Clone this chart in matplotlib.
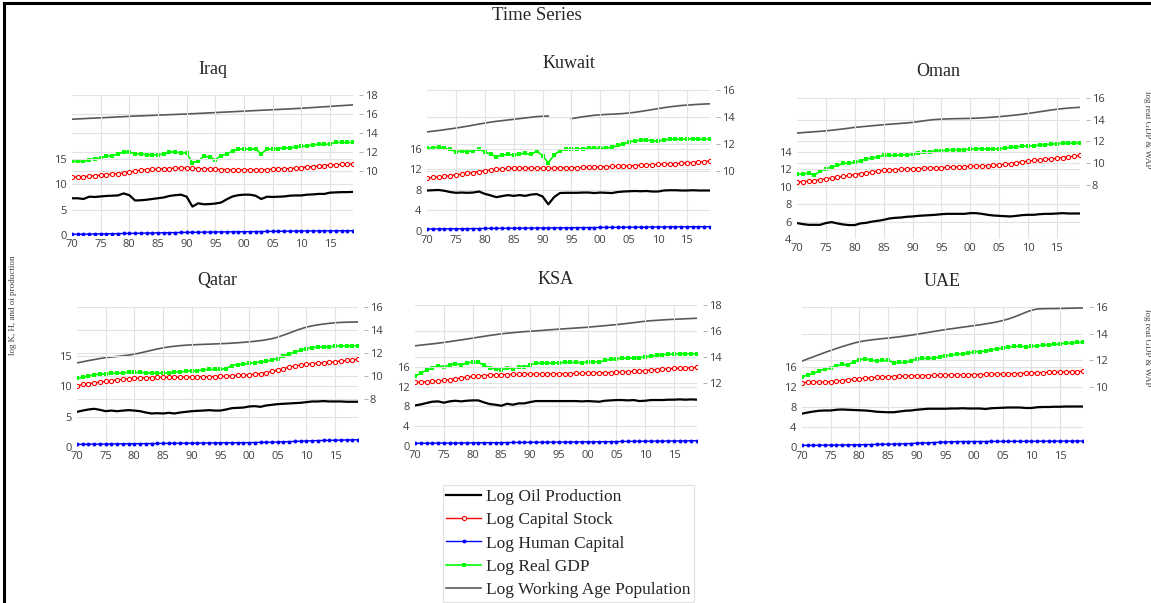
import numpy as np
import matplotlib
matplotlib.use("Agg")
import matplotlib.pyplot as plt
from matplotlib.lines import Line2D

W, H = 1151, 603

years = list(range(1970, 2020))
tick_years = [1970, 1975, 1980, 1985, 1990, 1995, 2000, 2005, 2010, 2015]
tick_labels = ["70", "75", "80", "85", "90", "95", "00", "05", "10", "15"]

series_names = ["Log Oil Production", "Log Capital Stock", "Log Human Capital",
                "Log Real GDP", "Log Working Age Population"]

# ---- Iraq ----
iraq_oil = [7.24, 7.24, 7.1, 7.55, 7.5, 7.6, 7.7, 7.75, 7.8, 8.2,
            7.85, 6.8, 6.85, 6.95, 7.1, 7.25, 7.4, 7.7, 7.85, 7.95,
            7.55, 5.6, 6.25, 6.05, 6.1, 6.2, 6.4, 7.05, 7.6, 7.85,
            7.95, 7.95, 7.75, 7.1, 7.55, 7.5, 7.55, 7.6, 7.75, 7.8,
            7.8, 7.95, 8.0, 8.1, 8.1, 8.35, 8.4, 8.45, 8.45, 8.5]
iraq_capital = [11.4, 11.45, 11.5, 11.6, 11.7, 11.8, 11.9, 12.0, 12.1, 12.25,
                12.4, 12.6, 12.8, 12.9, 12.95, 13.0, 13.05, 13.1, 13.15, 13.2,
                13.2, 13.15, 13.1, 13.05, 13.0, 12.95, 12.9, 12.9, 12.85, 12.85,
                12.85, 12.85, 12.85, 12.85, 12.9, 12.95, 13.0, 13.05, 13.1, 13.2,
                13.3, 13.4, 13.5, 13.6, 13.7, 13.8, 13.85, 13.9, 13.95, 14.0]
iraq_hc = [0.15, 0.16, 0.17, 0.18, 0.2, 0.22, 0.24, 0.26, 0.28, 0.3,
           0.32, 0.34, 0.36, 0.38, 0.4, 0.42, 0.44, 0.46, 0.48, 0.5,
           0.52, 0.53, 0.55, 0.57, 0.58, 0.6, 0.61, 0.62, 0.63, 0.64,
           0.65, 0.66, 0.67, 0.69, 0.7, 0.72, 0.73, 0.75, 0.76, 0.78,
           0.8, 0.8, 0.81, 0.82, 0.82, 0.83, 0.83, 0.84, 0.84, 0.85]
iraq_gdp = [11.0, 11.05, 11.0, 11.2, 11.3, 11.35, 11.6, 11.6, 11.8, 12.0,
            12.0, 11.8, 11.8, 11.7, 11.7, 11.7, 11.8, 12.0, 12.0, 11.9,
            11.9, 10.85, 11.05, 11.55, 11.45, 11.2, 11.6, 11.8, 12.1, 12.3,
            12.3, 12.3, 12.3, 11.8, 12.3, 12.3, 12.35, 12.4, 12.45, 12.5,
            12.6, 12.65, 12.75, 12.8, 12.8, 12.85, 13.0, 13.0, 13.0, 13.0]
iraq_wap = [15.45, 15.48, 15.51, 15.54, 15.57, 15.6, 15.63, 15.66, 15.69, 15.72,
            15.75, 15.78, 15.8, 15.83, 15.85, 15.88, 15.9, 15.93, 15.95, 15.98,
            16.0, 16.03, 16.06, 16.09, 16.12, 16.15, 16.18, 16.21, 16.24, 16.27,
            16.3, 16.33, 16.36, 16.39, 16.42, 16.45, 16.48, 16.51, 16.54, 16.57,
            16.6, 16.64, 16.68, 16.72, 16.76, 16.8, 16.84, 16.88, 16.92, 16.96]

# ---- Kuwait ----
kuwait_oil = [7.9, 7.95, 8.0, 7.85, 7.6, 7.45, 7.5, 7.45, 7.5, 7.7,
              7.25, 6.95, 6.6, 6.8, 7.0, 6.85, 7.0, 6.85, 7.1, 7.2,
              6.75, 5.2, 6.6, 7.4, 7.45, 7.45, 7.45, 7.5, 7.5, 7.4,
              7.5, 7.45, 7.4, 7.6, 7.7, 7.75, 7.8, 7.75, 7.8, 7.7,
              7.7, 7.9, 7.95, 7.95, 7.9, 7.9, 7.95, 7.9, 7.9, 7.9]
kuwait_capital = [10.35, 10.45, 10.55, 10.65, 10.8, 10.95, 11.1, 11.25, 11.4, 11.6,
                  11.75, 11.9, 12.0, 12.1, 12.2, 12.25, 12.25, 12.25, 12.25, 12.25,
                  12.25, 12.25, 12.25, 12.3, 12.3, 12.35, 12.35, 12.4, 12.45, 12.5,
                  12.5, 12.55, 12.6, 12.6, 12.65, 12.7, 12.75, 12.85, 12.9, 12.95,
                  13.0, 13.05, 13.1, 13.15, 13.2, 13.3, 13.35, 13.45, 13.55, 13.65]
kuwait_hc = [0.4, 0.4, 0.41, 0.42, 0.43, 0.44, 0.45, 0.46, 0.47, 0.48,
             0.5, 0.51, 0.52, 0.53, 0.54, 0.55, 0.56, 0.57, 0.58, 0.59,
             0.6, 0.6, 0.61, 0.62, 0.63, 0.64, 0.65, 0.66, 0.67, 0.68,
             0.69, 0.7, 0.71, 0.72, 0.73, 0.74, 0.75, 0.76, 0.77, 0.78,
             0.79, 0.8, 0.81, 0.82, 0.82, 0.83, 0.84, 0.84, 0.85, 0.85]
kuwait_gdp = [11.68, 11.73, 11.75, 11.68, 11.6, 11.43, 11.48, 11.43, 11.5, 11.63,
              11.43, 11.23, 11.06, 11.19, 11.23, 11.19, 11.28, 11.3, 11.23, 11.48,
              11.14, 10.6, 11.19, 11.5, 11.6, 11.6, 11.63, 11.65, 11.68, 11.68,
              11.68, 11.7, 11.75, 11.9, 12.0, 12.17, 12.22, 12.3, 12.3, 12.25,
              12.22, 12.3, 12.35, 12.35, 12.35, 12.37, 12.4, 12.35, 12.35, 12.35]
kuwait_wap = [12.9, 12.95, 13.0, 13.06, 13.12, 13.18, 13.25, 13.32, 13.4, 13.48,
              13.55, 13.62, 13.68, 13.73, 13.78, 13.83, 13.88, 13.93, 13.98, 14.03,
              14.06, 14.07, None, None, None, 13.88, 13.95, 14.02, 14.08, 14.13,
              14.16, 14.19, 14.21, 14.23, 14.26, 14.3, 14.35, 14.41, 14.48, 14.55,
              14.62, 14.69, 14.75, 14.8, 14.85, 14.88, 14.91, 14.94, 14.96, 14.98]

# ---- Oman ----
oman_oil = [5.83, 5.71, 5.63, 5.63, 5.63, 5.83, 5.94, 5.79, 5.67, 5.6,
            5.6, 5.79, 5.86, 6.0, 6.09, 6.2, 6.36, 6.43, 6.47, 6.55,
            6.59, 6.66, 6.7, 6.74, 6.78, 6.85, 6.89, 6.89, 6.89, 6.89,
            6.97, 6.97, 6.89, 6.78, 6.7, 6.66, 6.62, 6.59, 6.66, 6.74,
            6.78, 6.78, 6.85, 6.89, 6.89, 6.93, 6.97, 6.93, 6.93, 6.93]
oman_capital = [10.55, 10.6, 10.65, 10.72, 10.8, 10.9, 11.0, 11.1, 11.2, 11.3,
                11.4, 11.5, 11.6, 11.7, 11.8, 11.88, 11.93, 11.97, 12.0, 12.03,
                12.06, 12.09, 12.12, 12.15, 12.17, 12.19, 12.22, 12.25, 12.28, 12.32,
                12.35, 12.38, 12.4, 12.43, 12.47, 12.52, 12.58, 12.66, 12.75, 12.85,
                12.95, 13.02, 13.08, 13.14, 13.2, 13.28, 13.36, 13.44, 13.5, 13.6]
oman_hc = None  # below the axis floor of 4, not visible in the chart
oman_gdp = [8.98, 8.98, 9.08, 8.89, 9.23, 9.48, 9.63, 9.78, 9.97, 10.0,
            10.06, 10.22, 10.37, 10.46, 10.55, 10.71, 10.71, 10.71, 10.74, 10.77,
            10.83, 10.92, 10.98, 11.05, 11.11, 11.14, 11.17, 11.23, 11.23, 11.23,
            11.29, 11.32, 11.32, 11.29, 11.29, 11.32, 11.38, 11.45, 11.51, 11.54,
            11.57, 11.6, 11.66, 11.69, 11.75, 11.78, 11.82, 11.82, 11.85, 11.85]
oman_wap = [12.77, 12.81, 12.85, 12.89, 12.93, 12.97, 13.03, 13.09, 13.15, 13.22,
            13.29, 13.34, 13.39, 13.44, 13.49, 13.54, 13.58, 13.62, 13.66, 13.7,
            13.75, 13.82, 13.9, 13.97, 14.02, 14.05, 14.07, 14.09, 14.1, 14.11,
            14.12, 14.14, 14.17, 14.2, 14.24, 14.28, 14.33, 14.38, 14.44, 14.5,
            14.57, 14.65, 14.73, 14.81, 14.89, 14.96, 15.02, 15.07, 15.11, 15.14]

# ---- Qatar ----
qatar_oil = [5.79, 6.0, 6.18, 6.29, 6.12, 5.9, 6.0, 5.9, 6.0, 6.07,
             6.0, 5.9, 5.68, 5.52, 5.57, 5.52, 5.63, 5.52, 5.68, 5.79,
             5.9, 5.96, 6.0, 6.07, 6.0, 6.0, 6.18, 6.4, 6.45, 6.5,
             6.67, 6.73, 6.62, 6.84, 6.95, 7.06, 7.12, 7.17, 7.23, 7.28,
             7.39, 7.5, 7.5, 7.56, 7.5, 7.5, 7.5, 7.45, 7.45, 7.45]
qatar_capital = [10.05, 10.3, 10.45, 10.55, 10.7, 10.8, 10.95, 11.05, 11.15, 11.25,
                 11.3, 11.35, 11.4, 11.43, 11.45, 11.47, 11.49, 11.5, 11.51, 11.52,
                 11.53, 11.54, 11.55, 11.57, 11.6, 11.63, 11.67, 11.72, 11.78, 11.84,
                 11.9, 12.0, 12.1, 12.25, 12.45, 12.65, 12.9, 13.15, 13.35, 13.5,
                 13.62, 13.72, 13.8, 13.88, 13.95, 14.05, 14.15, 14.25, 14.35, 14.45]
qatar_hc = [0.44, 0.45, 0.46, 0.47, 0.48, 0.49, 0.5, 0.51, 0.52, 0.53,
            0.54, 0.55, 0.56, 0.57, 0.58, 0.59, 0.6, 0.61, 0.62, 0.63,
            0.64, 0.65, 0.66, 0.67, 0.68, 0.69, 0.7, 0.7, 0.71, 0.72,
            0.72, 0.74, 0.76, 0.78, 0.8, 0.83, 0.86, 0.89, 0.92, 0.96,
            1.0, 1.03, 1.06, 1.08, 1.1, 1.12, 1.14, 1.16, 1.18, 1.2]
qatar_gdp = [9.79, 9.9, 9.99, 10.1, 10.16, 10.19, 10.25, 10.22, 10.28, 10.31,
             10.31, 10.31, 10.28, 10.25, 10.25, 10.25, 10.28, 10.34, 10.36, 10.42,
             10.45, 10.45, 10.54, 10.57, 10.57, 10.57, 10.65, 10.91, 11.0, 11.03,
             11.09, 11.17, 11.23, 11.29, 11.4, 11.52, 11.75, 11.92, 12.07, 12.24,
             12.39, 12.47, 12.5, 12.53, 12.56, 12.59, 12.62, 12.62, 12.62, 12.62]
qatar_wap = [11.14, 11.24, 11.34, 11.43, 11.52, 11.6, 11.65, 11.7, 11.76, 11.82,
             11.9, 12.0, 12.12, 12.24, 12.35, 12.45, 12.53, 12.59, 12.64, 12.68,
             12.71, 12.73, 12.75, 12.77, 12.79, 12.81, 12.83, 12.86, 12.89, 12.93,
             12.97, 13.02, 13.08, 13.15, 13.25, 13.38, 13.55, 13.73, 13.92, 14.1,
             14.25, 14.36, 14.45, 14.52, 14.58, 14.63, 14.66, 14.68, 14.69, 14.7]

# ---- KSA ----
ksa_oil = [8.2, 8.4, 8.68, 8.95, 9.02, 8.75, 9.02, 9.15, 9.02, 9.15,
           9.22, 9.22, 8.81, 8.47, 8.34, 8.14, 8.54, 8.34, 8.61, 8.61,
           8.88, 9.08, 9.08, 9.08, 9.08, 9.08, 9.08, 9.08, 9.08, 9.02,
           9.08, 9.02, 8.95, 9.15, 9.22, 9.29, 9.29, 9.22, 9.29, 9.08,
           9.15, 9.29, 9.29, 9.29, 9.36, 9.36, 9.42, 9.36, 9.42, 9.36]
ksa_capital = [12.85, 12.9, 12.98, 13.08, 13.15, 13.25, 13.4, 13.55, 13.75, 13.9,
               14.05, 14.15, 14.25, 14.32, 14.38, 14.42, 14.45, 14.47, 14.48, 14.5,
               14.52, 14.55, 14.57, 14.58, 14.6, 14.62, 14.64, 14.65, 14.67, 14.7,
               14.75, 14.78, 14.8, 14.82, 14.85, 14.9, 14.95, 15.0, 15.08, 15.15,
               15.25, 15.35, 15.45, 15.52, 15.6, 15.68, 15.72, 15.77, 15.82, 15.88]
ksa_hc = [0.54, 0.55, 0.56, 0.57, 0.58, 0.59, 0.6, 0.61, 0.62, 0.63,
          0.64, 0.65, 0.66, 0.67, 0.68, 0.69, 0.7, 0.71, 0.72, 0.73,
          0.74, 0.75, 0.76, 0.77, 0.78, 0.79, 0.8, 0.81, 0.82, 0.83,
          0.84, 0.85, 0.86, 0.87, 0.88, 0.9, 0.92, 0.94, 0.95, 0.96,
          0.97, 0.98, 0.99, 1.0, 1.01, 1.02, 1.03, 1.04, 1.06, 1.08]
ksa_gdp = [12.51, 12.77, 12.97, 13.15, 13.33, 13.23, 13.4, 13.48, 13.4, 13.53,
           13.61, 13.61, 13.35, 13.15, 13.1, 13.02, 13.15, 13.1, 13.23, 13.23,
           13.38, 13.53, 13.53, 13.53, 13.53, 13.56, 13.58, 13.58, 13.58, 13.56,
           13.61, 13.63, 13.58, 13.74, 13.81, 13.86, 13.89, 13.89, 13.94, 13.94,
           14.02, 14.07, 14.12, 14.17, 14.2, 14.22, 14.25, 14.25, 14.25, 14.25]
ksa_wap = [14.86, 14.91, 14.96, 15.01, 15.06, 15.12, 15.18, 15.25, 15.31, 15.38,
           15.45, 15.52, 15.59, 15.66, 15.72, 15.78, 15.83, 15.87, 15.91, 15.95,
           15.98, 16.01, 16.04, 16.08, 16.11, 16.14, 16.17, 16.2, 16.23, 16.26,
           16.29, 16.33, 16.37, 16.41, 16.45, 16.49, 16.54, 16.59, 16.64, 16.7,
           16.75, 16.79, 16.82, 16.85, 16.88, 16.9, 16.92, 16.94, 16.96, 16.98]

# ---- UAE ----
uae_oil = [6.67, 6.9, 7.1, 7.25, 7.3, 7.3, 7.45, 7.5, 7.45, 7.4,
           7.35, 7.3, 7.2, 7.05, 7.0, 6.95, 6.95, 7.1, 7.25, 7.3,
           7.45, 7.55, 7.65, 7.65, 7.65, 7.65, 7.7, 7.7, 7.75, 7.7,
           7.7, 7.7, 7.6, 7.75, 7.8, 7.85, 7.9, 7.9, 7.9, 7.8,
           7.8, 7.95, 8.0, 8.0, 8.05, 8.05, 8.1, 8.1, 8.1, 8.1]
uae_capital = [12.9, 12.92, 12.95, 12.98, 13.0, 13.05, 13.15, 13.3, 13.45, 13.55,
               13.65, 13.75, 13.85, 13.92, 14.0, 14.05, 14.1, 14.15, 14.2, 14.22,
               14.25, 14.28, 14.3, 14.32, 14.35, 14.38, 14.4, 14.42, 14.44, 14.46,
               14.48, 14.5, 14.52, 14.54, 14.56, 14.6, 14.63, 14.66, 14.7, 14.75,
               14.8, 14.85, 14.88, 14.92, 14.95, 14.98, 15.02, 15.06, 15.1, 15.13]
uae_hc = [0.33, 0.34, 0.35, 0.36, 0.37, 0.38, 0.39, 0.4, 0.42, 0.44,
          0.46, 0.48, 0.5, 0.52, 0.54, 0.56, 0.58, 0.6, 0.65, 0.7,
          0.75, 0.8, 0.85, 0.9, 0.95, 1.0, 1.05, 1.08, 1.1, 1.1,
          1.1, 1.1, 1.1, 1.12, 1.12, 1.12, 1.13, 1.13, 1.14, 1.14,
          1.15, 1.15, 1.16, 1.16, 1.17, 1.17, 1.18, 1.18, 1.19, 1.19]
uae_gdp = [10.75, 10.88, 11.0, 11.2, 11.35, 11.4, 11.55, 11.68, 11.63, 11.88,
           12.05, 12.1, 12.0, 11.95, 11.98, 11.98, 11.8, 11.83, 11.83, 11.95,
           12.1, 12.13, 12.13, 12.15, 12.23, 12.33, 12.38, 12.45, 12.48, 12.53,
           12.63, 12.65, 12.68, 12.78, 12.85, 12.9, 12.98, 13.03, 13.05, 13.0,
           13.03, 13.08, 13.13, 13.15, 13.18, 13.23, 13.28, 13.3, 13.33, 13.33]
uae_wap = [11.93, 12.1, 12.26, 12.42, 12.58, 12.73, 12.88, 13.02, 13.15, 13.28,
           13.38, 13.46, 13.52, 13.57, 13.62, 13.66, 13.71, 13.76, 13.82, 13.88,
           13.95, 14.02, 14.09, 14.16, 14.23, 14.3, 14.36, 14.42, 14.48, 14.54,
           14.6, 14.66, 14.73, 14.8, 14.88, 14.98, 15.1, 15.25, 15.42, 15.6,
           15.75, 15.85, 15.87, 15.88, 15.88, 15.89, 15.9, 15.91, 15.92, 15.93]

# layout: name, series, pixel box (x0, x1, ytop, ybottom), title y, left/right axis setup
panels = [
    ("Iraq", [iraq_oil, iraq_capital, iraq_hc, iraq_gdp, iraq_wap],
     (72, 353, 95, 235), 70, (0, 27.6, [0, 5, 10, 15]), (3.26, 18, [10, 12, 14, 16, 18])),
    ("Kuwait", [kuwait_oil, kuwait_capital, kuwait_hc, kuwait_gdp, kuwait_wap],
     (427, 710, 90, 231), 64, (0, 27.5, [0, 4, 8, 12, 16]), (5.56, 16, [10, 12, 14, 16])),
    ("Oman", [oman_oil, oman_capital, oman_hc, oman_gdp, oman_wap],
     (797, 1080, 98, 239), 72, (4, 20.2, [4, 6, 8, 10, 12, 14]), (3.0, 16, [8, 10, 12, 14, 16])),
    ("Qatar", [qatar_oil, qatar_capital, qatar_hc, qatar_gdp, qatar_wap],
     (77, 358, 307, 447), 281, (0, 23.06, [0, 5, 10, 15]), (3.83, 16, [8, 10, 12, 14, 16])),
    ("KSA", [ksa_oil, ksa_capital, ksa_hc, ksa_gdp, ksa_wap],
     (415, 697, 305, 446), 279, (0, 28.5, [0, 4, 8, 12, 16]), (7.15, 18, [12, 14, 16, 18])),
    ("UAE", [uae_oil, uae_capital, uae_hc, uae_gdp, uae_wap],
     (802, 1083, 307, 447), 281, (0, 28, [0, 4, 8, 12, 16]), (5.47, 16, [10, 12, 14, 16])),
]

styles = [
    dict(color="black", lw=1.6),
    dict(color="#ff0000", lw=1.0, marker="o", ms=3.0, mfc="white", mew=0.8),
    dict(color="#0000ff", lw=1.0, marker="o", ms=2.8, mew=0),
    dict(color="#00ff00", lw=1.2, marker="s", ms=3.1, mew=0),
    dict(color="#595959", lw=1.2),
]

serif = ["Liberation Serif", "DejaVu Serif"]
grid_kw = dict(color="#e2e2e2", lw=0.8)

fig = plt.figure(figsize=(W / 100, H / 100), dpi=100)

handles = []
for name, data, box, ty, left, right in panels:
    x0, x1, yt, yb = box
    ax = fig.add_axes([x0 / W, 1 - yb / H, (x1 - x0) / W, (yb - yt) / H])
    ax2 = ax.twinx()
    ax.set_zorder(ax2.get_zorder() + 1)
    ax.patch.set_visible(False)

    lines = []
    for i, vals in enumerate(data):
        if vals is None:
            lines.append(None)
            continue
        target = ax if i < 3 else ax2
        ln, = target.plot(years, np.array(vals, dtype=float), **styles[i])
        lines.append(ln)
    if not handles:
        handles = lines

    ax.set_xlim(1970, 2019)
    ax.set_xticks(tick_years)
    ax.set_xticklabels(tick_labels)
    ax.set_ylim(left[0], left[1])
    ax.set_yticks(left[2])
    ax2.set_ylim(right[0], right[1])
    ax2.set_yticks(right[2])

    ax2.grid(axis="y", **grid_kw)
    ax.grid(axis="both", **grid_kw)
    ax2.set_axisbelow(True)
    ax.set_axisbelow(True)
    # no gridline on the left edge or along the very top
    ax.get_xgridlines()[0].set_visible(False)
    ax2.get_ygridlines()[-1].set_visible(False)

    for a in (ax, ax2):
        for s in a.spines.values():
            s.set_visible(False)
    ax2.spines["right"].set_position(("outward", 4))
    ax.tick_params(axis="both", length=0, labelsize=8, labelcolor="#404040")
    ax.tick_params(axis="y", pad=4)
    ax.tick_params(axis="x", pad=3)
    ax2.tick_params(axis="y", direction="out", length=3, width=0.6, color="#a6a6a6",
                    labelsize=8, labelcolor="#404040", pad=1.5)
    for lab in ax.get_xticklabels() + ax.get_yticklabels() + ax2.get_yticklabels():
        lab.set_fontfamily(["Open Sans", "DejaVu Sans"])

    fig.text((x0 + x1) / 2 / W, 1 - ty / H, name, ha="center", va="center",
             family=serif, fontsize=13, color="#262626")

fig.text(537 / W, 1 - 16 / H, "Time Series", ha="center", va="center",
         family=serif, fontsize=13.5, color="#262626")

fig.text(13 / W, 1 - 305 / H, "log K, H, and oi production", rotation=90,
         ha="center", va="center", family=serif, fontsize=6.5, color="#404040")
for yc in (130, 348):
    fig.text(1143 / W, 1 - yc / H, "log real GDP & WAP", rotation=270,
             ha="left", va="center", family=serif, fontsize=6.5, color="#404040")

leg = fig.legend(handles, series_names, loc="upper left",
                 bbox_to_anchor=(443 / W, 1 - 485 / H), borderaxespad=0,
                 prop=dict(family=serif, size=12.5), frameon=True, fancybox=False,
                 edgecolor="#d9d9d9", handlelength=2.0, handletextpad=0.3,
                 labelspacing=0.42, borderpad=0.2, numpoints=1)
leg.get_frame().set_linewidth(0.8)
for t in leg.get_texts():
    t.set_color("#262626")

# black frame on left and top edges
fig.add_artist(Line2D([4 / W, 4 / W], [0, 1 - 3 / H], color="black", lw=2.2,
                      transform=fig.transFigure))
fig.add_artist(Line2D([4 / W, 1], [1 - 3 / H, 1 - 3 / H], color="black", lw=2.2,
                      transform=fig.transFigure))

fig.savefig("out.png", dpi=100)
